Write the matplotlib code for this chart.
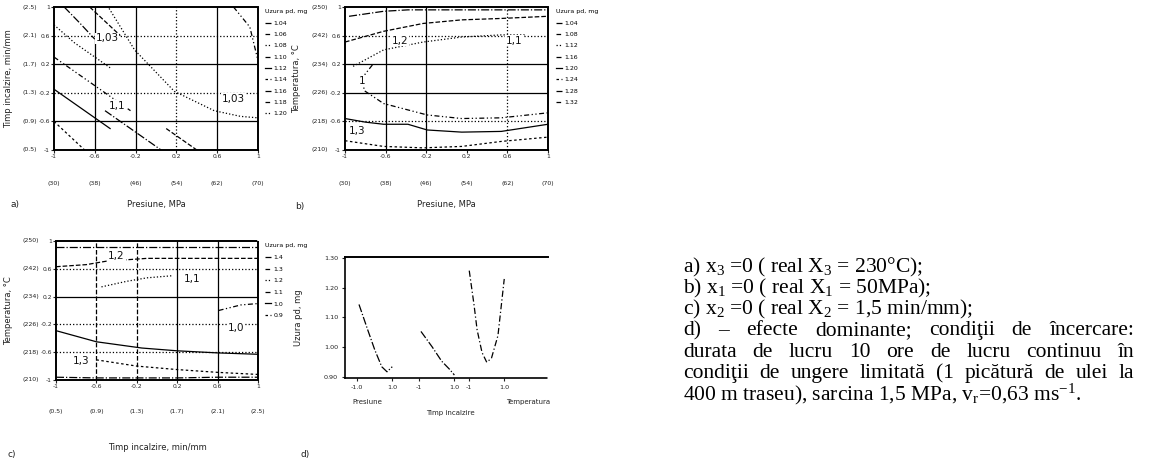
import matplotlib
matplotlib.use("Agg")
import matplotlib.pyplot as plt
import matplotlib.transforms as mtransforms
from matplotlib.lines import Line2D

plt.rcParams["font.family"] = ["DejaVu Sans"]
plt.rcParams["mathtext.fontset"] = "custom"
plt.rcParams["mathtext.rm"] = "Liberation Serif"
plt.rcParams["mathtext.it"] = "Liberation Serif:italic"

W, H = 1152, 470

# coded levels and the real values printed in brackets
coded_ticks = [-1, -0.6, -0.2, 0.2, 0.6, 1]
coded_labels = ["-1", "-0.6", "-0.2", "0.2", "0.6", "1"]
pressure_real = ["(30)", "(38)", "(46)", "(54)", "(62)", "(70)"]
temp_real = ["(210)", "(218)", "(226)", "(234)", "(242)", "(250)"]
time_real = ["(0.5)", "(0.9)", "(1.3)", "(1.7)", "(2.1)", "(2.5)"]

# a) iso-wear lines, pressure (x) / heating time (y), coded units
a_lines_x = [
    [-0.9, -0.75, -0.6],
    [-0.65, -0.5, -0.35],
    [-1.0, -0.8, -0.6, -0.45],
    [-1.0, -0.8, -0.6, -0.4, -0.25],
    [-1.0, -0.8, -0.6, -0.45],
    [-1.0, -0.85, -0.7],
    [-0.5, -0.3, -0.1, 0.05],
    [0.1, 0.25, 0.4],
    [-0.46, -0.21, 0.18, 0.57, 0.83, 1.0],
    [0.76, 0.92, 1.0],
]
a_lines_y = [
    [1.0, 0.78, 0.55],
    [1.0, 0.8, 0.6],
    [0.75, 0.5, 0.3, 0.15],
    [0.3, 0.1, -0.1, -0.3, -0.45],
    [-0.15, -0.35, -0.55, -0.7],
    [-0.6, -0.8, -1.0],
    [-0.45, -0.65, -0.85, -1.0],
    [-0.7, -0.85, -1.0],
    [0.98, 0.4, -0.18, -0.45, -0.53, -0.55],
    [1.0, 0.72, 0.25],
]
a_tags = ["1,03", "1,1", "1,03"]
a_tags_x = [-0.48, -0.38, 0.76]
a_tags_y = [0.56, -0.38, -0.28]
a_levels = ["1.04", "1.06", "1.08", "1.10", "1.12", "1.14", "1.16", "1.18", "1.20"]

# b) pressure (x) / temperature (y)
b_lines_x = [
    [-0.96, -0.62, -0.38, 0.15, 0.6, 1.0],
    [-1.0, -0.62, -0.23, 0.15, 0.54, 1.0],
    [-0.92, -0.62, -0.23, 0.15, 0.54, 0.77],
    [-0.73, -0.83, -0.81, -0.62, -0.19, 0.15, 0.54, 1.0],
    [-1.0, -0.8, -0.62, -0.38, -0.19, 0.15, 0.54, 1.0],
    [-1.0, -0.62, -0.23, 0.15, 0.54, 1.0],
]
b_lines_y = [
    [0.87, 0.94, 0.96, 0.96, 0.96, 0.96],
    [0.51, 0.66, 0.77, 0.82, 0.84, 0.87],
    [0.17, 0.40, 0.51, 0.58, 0.61, 0.61],
    [0.19, 0.01, -0.17, -0.35, -0.51, -0.56, -0.55, -0.48],
    [-0.56, -0.61, -0.64, -0.64, -0.72, -0.75, -0.74, -0.64],
    [-0.87, -0.95, -0.97, -0.95, -0.88, -0.82],
]
b_tags = ["1,2", "1,1", "1", "1,3"]
b_tags_x = [-0.46, 0.67, -0.83, -0.88]
b_tags_y = [0.53, 0.53, -0.04, -0.74]
b_levels = ["1.04", "1.08", "1.12", "1.16", "1.20", "1.24", "1.28", "1.32"]

# c) heating time (x) / temperature (y)
c_lines_x = [
    [-1.0, -0.55, 0.0, 0.55, 1.0],
    [-1.0, -0.7, -0.5, -0.1, 0.85, 1.0],
    [-0.55, -0.3, -0.1, 0.15],
    [0.61, 0.83, 1.0],
    [-1.0, -0.6, -0.15, 0.2, 0.6, 1.0],
    [-0.6, -0.2, 0.2, 0.6, 1.0],
    [-1.0, -0.6, -0.2, 0.2, 0.6, 1.0],
]
c_lines_y = [
    [0.92, 0.92, 0.92, 0.92, 0.92],
    [0.63, 0.66, 0.71, 0.75, 0.75, 0.75],
    [0.34, 0.42, 0.47, 0.50],
    [0.0, 0.08, 0.1],
    [-0.29, -0.45, -0.54, -0.58, -0.61, -0.63],
    [-0.71, -0.80, -0.85, -0.89, -0.92],
    [-0.96, -0.97, -0.97, -0.97, -0.96, -0.96],
]
c_tags = ["1,2", "1,1", "1,0", "1,3"]
c_tags_x = [-0.4, 0.35, 0.78, -0.75]
c_tags_y = [0.78, 0.45, -0.25, -0.72]
c_levels = ["1.4", "1.3", "1.2", "1.1", "1.0", "0.9"]

# d) dominant effects, wear vs each factor
d_pres_x = [-0.9, -0.4, 0.0, 0.4, 0.7, 1.0]
d_pres_y = [1.143, 1.057, 0.99, 0.933, 0.916, 0.933]
d_time_x = [-0.91, -0.27, 0.27, 0.73, 1.0]
d_time_y = [1.052, 1.0, 0.952, 0.924, 0.905]
d_temp_x = [-1.0, -0.73, -0.55, -0.27, 0.0, 0.27, 0.64, 1.0]
d_temp_y = [1.257, 1.143, 1.057, 0.981, 0.948, 0.962, 1.038, 1.229]
d_yticks = [0.90, 1.00, 1.10, 1.20, 1.30]
d_xlabels = ["-1.0", "1.0", "-1", "1.0", "-1", "1.0"]

styles = ["-.", "--", ":", (0, (4, 2, 1, 2, 1, 2)), "-", (0, (2, 2))]

fig = plt.figure(figsize=(W / 100, H / 100), dpi=100)


def box(l, t, r, b):
    return fig.add_axes([l / W, 1 - b / H, (r - l) / W, (b - t) / H])


def panel(rect, xreal, yreal, xlab, ylab, vgrid, hgrid, offs):
    # offs in pixels: x-bracket row below, y-bracket right edge left, xlabel below, ylabel left
    l, t, r, b = rect
    w, h = r - l, b - t
    ax = box(*rect)
    ax.set_xlim(-1, 1)
    ax.set_ylim(-1, 1)
    ax.set_xticks(coded_ticks, coded_labels)
    ax.set_yticks(coded_ticks, coded_labels)
    ax.tick_params(labelsize=4.3, length=2, pad=1, colors="#222")
    for s in ax.spines.values():
        s.set_linestyle((0, (1, 1)))
        s.set_linewidth(1.4)
    for v, ls in vgrid:
        ax.axvline(v, color="k", lw=0.9, ls=ls)
    for v, ls in hgrid:
        ax.axhline(v, color="k", lw=0.9, ls=ls)
    bt = mtransforms.blended_transform_factory(ax.transData, ax.transAxes)
    for v, s in zip(coded_ticks, xreal):
        ax.text(v, -offs[0] / h, s, transform=bt, ha="center", va="center", fontsize=4.5, color="#222")
    lt = mtransforms.blended_transform_factory(ax.transAxes, ax.transData)
    for v, s in zip(coded_ticks, yreal):
        ax.text(-offs[1] / w, v, s, transform=lt, ha="right", va="center", fontsize=4.5, color="#222")
    ax.set_xlabel(xlab, fontsize=6, color="#222")
    ax.xaxis.set_label_coords(0.5, -offs[2] / h)
    ax.set_ylabel(ylab, fontsize=6, color="#222")
    ax.yaxis.set_label_coords(-offs[3] / w, 0.5)
    return ax


def isolines(ax, xs, ys, tags, tx, ty):
    for i, (x, y) in enumerate(zip(xs, ys)):
        ax.plot(x, y, color="k", lw=0.9, ls=styles[i % len(styles)])
    for s, x, y in zip(tags, tx, ty):
        ax.text(x, y, s, fontsize=7.5, ha="center", va="center", color="#111",
                bbox=dict(facecolor="white", edgecolor="none", pad=0.5))


def legend(ax, labels, loc, spacing):
    hs = [Line2D([], [], color="k", lw=0.9, ls=styles[i % len(styles)]) for i in range(len(labels))]
    lg = ax.legend(hs, labels, title="Uzura pd, mg", loc="upper left", bbox_to_anchor=loc,
                   frameon=False, fontsize=4.5, title_fontsize=4.5, handlelength=1.1,
                   handletextpad=0.3, labelspacing=spacing, borderaxespad=0)
    lg._legend_box.align = "left"


ax_a = panel((54, 7, 258, 150), pressure_real, time_real, "Presiune, MPa",
             "Timp incalzire, min/mm",
             [(-0.6, "-"), (-0.2, "-"), (0.2, ":"), (0.6, "-")],
             [(0.6, ":"), (0.2, "-"), (-0.2, ":"), (-0.6, "-")],
             (33, 17, 50, 41))
isolines(ax_a, a_lines_x, a_lines_y, a_tags, a_tags_x, a_tags_y)
legend(ax_a, a_levels, (1.02, 1.0), 0.95)

ax_b = panel((345, 7, 548, 150), pressure_real, temp_real, "Presiune, MPa",
             "Temperatura, °C",
             [(-0.6, "-"), (-0.2, "-"), (0.6, ":")],
             [(0.6, ":"), (0.2, "-"), (-0.2, "-"), (-0.6, ":")],
             (33, 17, 50, 44))
isolines(ax_b, b_lines_x, b_lines_y, b_tags, b_tags_x, b_tags_y)
legend(ax_b, b_levels, (1.025, 1.0), 0.95)

ax_c = panel((56, 241, 258, 380), time_real, temp_real, "Timp incalzire, min/mm",
             "Temperatura, °C",
             [(-0.6, "--"), (-0.2, "--"), (0.2, "-"), (0.6, "-")],
             [(0.6, ":"), (0.2, "-"), (-0.2, ":"), (-0.6, ":")],
             (32, 17, 63, 43))
isolines(ax_c, c_lines_x, c_lines_y, c_tags, c_tags_x, c_tags_y)
legend(ax_c, c_levels, (1.02, 1.0), 1.0)

# d) three factor segments side by side on one axis
ax_d = box(345, 257, 548, 378)
seg_off = [0.0, 3.55, 6.4]
ax_d.plot([v + seg_off[0] for v in d_pres_x], d_pres_y, color="k", lw=0.9, ls="-.")
ax_d.plot([v + seg_off[1] for v in d_time_x], d_time_y, color="k", lw=0.9, ls="-.")
ax_d.plot([v + seg_off[2] for v in d_temp_x], d_temp_y, color="k", lw=0.9, ls=(0, (5, 2, 1, 2)))
ax_d.set_xlim(-1.7, 9.9)
ax_d.set_ylim(0.895, 1.303)
ax_d.set_xticks([o + e for o in seg_off for e in (-1, 1)], d_xlabels)
ax_d.set_yticks(d_yticks, [f"{v:.2f}" for v in d_yticks])
ax_d.tick_params(labelsize=4.6, length=2, pad=3, colors="#222")
for k in ("left", "bottom", "right"):
    ax_d.spines[k].set_linestyle((0, (1, 1)))
    ax_d.spines[k].set_linewidth(1.2)
ax_d.spines["right"].set_visible(False)
ax_d.spines["top"].set_linewidth(1.4)
ax_d.set_ylabel("Uzura pd, mg", fontsize=6, color="#222")
ax_d.yaxis.set_label_coords(-42 / 203, 0.5)
fig.text(367 / W, 1 - 402 / H, "Presiune", fontsize=5, ha="center", va="center", color="#222")
fig.text(528 / W, 1 - 402 / H, "Temperatura", fontsize=5, ha="center", va="center", color="#222")
fig.text(450 / W, 1 - 413 / H, "Timp incalzire", fontsize=5, ha="center", va="center", color="#222")

for s, x, y in [("a)", 15, 205), ("b)", 300, 207), ("c)", 12, 455), ("d)", 305, 455)]:
    fig.text(x / W, 1 - y / H, s, fontsize=6.5, ha="center", va="center", color="#222")

# notes on the right, justified like the source
notes = [
    ("a) x$_3$ =0 ( real X$_3$ = 230°C);", None),
    ("b) x$_1$ =0 ( real X$_1$ = 50MPa);", None),
    ("c) x$_2$ =0 ( real X$_2$ = 1,5 min/mm);", None),
    ("d) – efecte dominante; condiţii de încercare:", 1134),
    ("durata de lucru 10 ore de lucru continuu în", 1134),
    ("condiţii de ungere limitată (1 picătură de ulei la", 1134),
    ("400 m traseu), sarcina 1,5 MPa, v$_\\mathrm{r}$=0,63 ms$^{-1}$.", None),
]
fs = 15.5
renderer = fig.canvas.get_renderer()
x0 = 683
for i, (line, x1) in enumerate(notes):
    y = 1 - (267 + i * 21.3) / H
    if x1 is None:
        fig.text(x0 / W, y, line, fontsize=fs, family="Liberation Serif", va="center")
        continue
    words = line.split(" ")
    ts = [fig.text(0, y, w, fontsize=fs, family="Liberation Serif", va="center") for w in words]
    ws = [t.get_window_extent(renderer).width for t in ts]
    gap = (x1 - x0 - sum(ws)) / (len(words) - 1)
    x = x0
    for t, w in zip(ts, ws):
        t.set_x(x / W)
        x += w + gap

fig.savefig("out.png", dpi=100, facecolor="white")
